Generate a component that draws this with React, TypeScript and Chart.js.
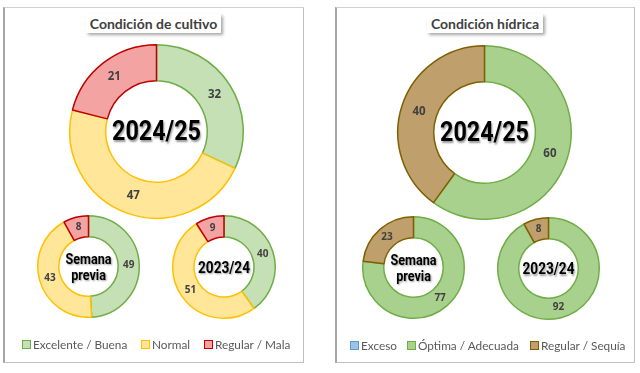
import React, { useEffect, useRef } from "react";
import { Chart, registerables } from "chart.js";

Chart.register(...registerables);

// ---- Data ----
const cropCategories = ["Excelente / Buena", "Normal", "Regular / Mala"];
const cropCurrent = [32, 47, 21];
const cropPrevWeek = [49, 43, 8];
const cropLastYear = [40, 51, 9];

const waterCategories = ["Exceso", "Óptima / Adecuada", "Regular / Sequía"];
const waterCurrent = [0, 60, 40];
const waterPrevWeek = [0, 77, 23];
const waterLastYear = [0, 92, 8];

const cropFill = ["#c5e0b4", "#ffe699", "#f4a3a3"];
const cropBorder = ["#70ad47", "#ffc000", "#c00000"];
const waterFill = ["#9dc3e6", "#a9d18e", "#bf9f6b"];
const waterBorder = ["#5b9bd5", "#70ad47", "#7f6000"];

const panelTitles = ["Condición de cultivo", "Condición hídrica"];

type DonutProps = {
  cx: number;
  cy: number;
  r: number;
  values: number[];
  labels: string[];
  fill: string[];
  border: string[];
  center: string[];
  centerSize: number;
  centerWidth: number;
  lineHeight: number;
  labelSize: number;
};

const centerPlugin = {
  id: "centerAndLabels",
  afterDatasetsDraw(chart: any, _args: any, opts: any) {
    const ctx = chart.ctx;
    const meta = chart.getDatasetMeta(0);
    const data = chart.data.datasets[0].data as number[];
    ctx.save();
    ctx.textAlign = "center";
    ctx.textBaseline = "middle";
    ctx.fillStyle = "#404040";
    ctx.font = `bold ${opts.labelSize}px "Open Sans", "Noto Sans", sans-serif`;
    meta.data.forEach((arc: any, i: number) => {
      if (!data[i]) return;
      const p = arc.tooltipPosition();
      ctx.fillText(String(data[i]), p.x, p.y);
    });
    const first = meta.data[0];
    const x = first.x;
    const y = first.y;
    const lines: string[] = opts.center;
    const size: number = opts.centerSize;
    ctx.font = `bold ${size}px Roboto, "DejaVu Sans", sans-serif`;
    const widest = Math.max(...lines.map((l) => ctx.measureText(l).width));
    const sx = Math.min(1, opts.centerWidth / widest);
    ctx.shadowColor = "rgba(0,0,0,0.4)";
    ctx.shadowBlur = 2;
    ctx.shadowOffsetX = 1;
    ctx.shadowOffsetY = 1.5;
    ctx.fillStyle = "#000000";
    const lh = opts.lineHeight;
    lines.forEach((ln, i) => {
      const yy = y + 1.5 + (i - (lines.length - 1) / 2) * lh;
      ctx.save();
      ctx.translate(x, yy);
      ctx.scale(sx, 1);
      ctx.fillText(ln, 0, 0);
      ctx.restore();
    });
    ctx.restore();
  },
};

function Donut(props: DonutProps) {
  const ref = useRef<HTMLCanvasElement | null>(null);
  const bw = 1.5;
  const size = Math.round(props.r * 2 + bw + 2);
  useEffect(() => {
    if (!ref.current) return;
    const chart = new Chart(ref.current, {
      type: "doughnut",
      data: {
        labels: props.labels,
        datasets: [
          {
            data: props.values,
            backgroundColor: props.fill,
            borderColor: props.border,
            borderWidth: bw,
          },
        ],
      },
      options: {
        responsive: false,
        animation: false,
        cutout: "58.5%",
        layout: { padding: 1 },
        plugins: {
          legend: { display: false },
          tooltip: { enabled: false },
          title: { display: false },
          centerAndLabels: {
            center: props.center,
            centerSize: props.centerSize,
            centerWidth: props.centerWidth,
            lineHeight: props.lineHeight,
            labelSize: props.labelSize,
          },
        } as any,
      },
      plugins: [centerPlugin],
    });
    return () => chart.destroy();
  }, []);
  return (
    <canvas
      ref={ref}
      width={size}
      height={size}
      style={{
        position: "absolute",
        left: props.cx - size / 2,
        top: props.cy - size / 2,
        width: size,
        height: size,
      }}
    />
  );
}

function Legend(props: {
  items: string[];
  fill: string[];
  border: string[];
  xs: number[];
  y: number;
}) {
  return (
    <>
      {props.items.map((t, i) => (
        <div
          key={t}
          style={{
            position: "absolute",
            left: props.xs[i],
            top: props.y - 8,
            height: 16,
            display: "flex",
            alignItems: "center",
            whiteSpace: "nowrap",
            fontFamily: "Lato, 'Open Sans', sans-serif",
            fontSize: 11.8,
            color: "#595959",
          }}
        >
          <span
            style={{
              display: "inline-block",
              width: 7,
              height: 7,
              background: props.fill[i],
              border: `1px solid ${props.border[i]}`,
              marginRight: 2,
            }}
          />
          {t}
        </div>
      ))}
    </>
  );
}

function Panel(props: { left: number; width: number; title: string }) {
  return (
    <>
      <div
        style={{
          position: "absolute",
          left: props.left,
          top: 7,
          width: props.width,
          height: 356,
          borderTop: "1px solid #d0d0d0",
          borderRight: "1.5px solid #bfbfbf",
          borderBottom: "1.5px solid #bfbfbf",
          borderLeft: "2px solid #a6a6a6",
          boxSizing: "border-box",
        }}
      />
      <div
        style={{
          position: "absolute",
          left: props.left + props.width / 2 - 70,
          width: 140,
          top: 14,
          height: 19,
          display: "flex",
          justifyContent: "center",
        }}
      >
        <div
          style={{
            background: "#ffffff",
            boxShadow: "2px 2px 3px rgba(0,0,0,0.35)",
            padding: "0 4px",
            height: 19,
            lineHeight: "19px",
            fontFamily: "Lato, 'Open Sans', sans-serif",
            fontWeight: 700,
            fontSize: 14,
            color: "#404040",
            whiteSpace: "nowrap",
          }}
        >
          {props.title}
        </div>
      </div>
    </>
  );
}

export default function App() {
  return (
    <div
      style={{
        position: "fixed",
        left: 0,
        top: 0,
        width: 640,
        height: 373,
        background: "#ffffff",
        overflow: "hidden",
      }}
    >
      <Panel left={3} width={301} title={panelTitles[0]} />
      <Panel left={335} width={300} title={panelTitles[1]} />

      <Donut cx={156} cy={131.5} r={86.5} values={cropCurrent} labels={cropCategories}
        fill={cropFill} border={cropBorder} center={["2024/25"]} centerSize={28} centerWidth={89} lineHeight={28} labelSize={11.5} />
      <Donut cx={88.5} cy={266.5} r={50.5} values={cropPrevWeek} labels={cropCategories}
        fill={cropFill} border={cropBorder} center={["Semana", "previa"]} centerSize={14.5} centerWidth={46} lineHeight={16} labelSize={10} />
      <Donut cx={224} cy={267} r={51} values={cropLastYear} labels={cropCategories}
        fill={cropFill} border={cropBorder} center={["2023/24"]} centerSize={17} centerWidth={52} lineHeight={17} labelSize={10} />

      <Donut cx={484} cy={132} r={86.5} values={waterCurrent} labels={waterCategories}
        fill={waterFill} border={waterBorder} center={["2024/25"]} centerSize={28} centerWidth={89} lineHeight={28} labelSize={11.5} />
      <Donut cx={413} cy={267} r={50.5} values={waterPrevWeek} labels={waterCategories}
        fill={waterFill} border={waterBorder} center={["Semana", "previa"]} centerSize={14.5} centerWidth={46} lineHeight={16} labelSize={10} />
      <Donut cx={548} cy={268} r={50.5} values={waterLastYear} labels={waterCategories}
        fill={waterFill} border={waterBorder} center={["2023/24"]} centerSize={17} centerWidth={52} lineHeight={17} labelSize={10} />

      <Legend items={cropCategories} fill={cropFill} border={cropBorder} xs={[22, 141, 204]} y={344} />
      <Legend items={waterCategories} fill={waterFill} border={waterBorder} xs={[350, 407, 530]} y={345} />
    </div>
  );
}
